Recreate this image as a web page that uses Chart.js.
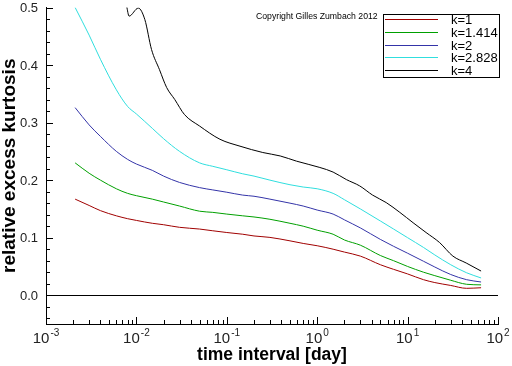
<!DOCTYPE html>
<html><head><meta charset="utf-8">
<script src="https://cdn.jsdelivr.net/npm/chart.js@4"></script>
<style>html,body{margin:0;padding:0;background:#fff;overflow:hidden}</style>
</head><body>
<canvas id="c" width="512" height="366" style="display:block;width:512px;height:366px"></canvas>
<script>
// ---- data ----
const days = [0.0021, 0.003, 0.004, 0.006, 0.008, 0.01, 0.015, 0.02, 0.03, 0.05, 0.07, 0.1, 0.15, 0.2, 0.3, 0.5, 0.7, 1, 1.5, 2, 3, 5, 7, 10, 15, 20, 30, 45, 65];
const kurtK1 = [0.167, 0.156, 0.147, 0.138, 0.133, 0.130, 0.125, 0.1225, 0.118, 0.115, 0.112, 0.109, 0.106, 0.103, 0.1005, 0.0945, 0.090, 0.086, 0.080, 0.075, 0.068, 0.053, 0.045, 0.037, 0.027, 0.022, 0.017, 0.012, 0.013];
const kurtK1414 = [0.230, 0.212, 0.200, 0.185, 0.177, 0.173, 0.167, 0.162, 0.155, 0.146, 0.144, 0.141, 0.138, 0.136, 0.132, 0.125, 0.120, 0.113, 0.106, 0.096, 0.087, 0.069, 0.060, 0.050, 0.040, 0.034, 0.026, 0.019, 0.018];
const kurtK2 = [0.326, 0.296, 0.276, 0.250, 0.236, 0.228, 0.217, 0.207, 0.196, 0.187, 0.183, 0.179, 0.174, 0.172, 0.167, 0.160, 0.155, 0.148, 0.141, 0.131, 0.117, 0.097, 0.085, 0.073, 0.059, 0.049, 0.036, 0.027, 0.023];
const kurtK2828 = [0.500, 0.452, 0.410, 0.357, 0.328, 0.315, 0.290, 0.272, 0.250, 0.230, 0.224, 0.218, 0.211, 0.207, 0.200, 0.192, 0.188, 0.185, 0.177, 0.166, 0.150, 0.129, 0.115, 0.100, 0.083, 0.070, 0.053, 0.039, 0.030];
const daysK4 = [0.0078, 0.0083, 0.0105, 0.0124, 0.0147, 0.018, 0.0216, 0.0266, 0.034, 0.05, 0.084, 0.14, 0.25, 0.39, 0.59, 1.07, 1.5, 2.1, 2.95, 4.1, 5.8, 8.2, 11.5, 16, 22.6, 31.7, 44.5, 65];
const kurtK4 = [0.502, 0.485, 0.499, 0.479, 0.427, 0.392, 0.361, 0.340, 0.314, 0.294, 0.271, 0.259, 0.248, 0.242, 0.233, 0.222, 0.214, 0.201, 0.190, 0.174, 0.161, 0.144, 0.126, 0.109, 0.0915, 0.068, 0.056, 0.042];

const seriesLabels = ['k=1', 'k=1.414', 'k=2', 'k=2.828', 'k=4'];
const seriesColors = ['#a00000', '#00a000', '#3434a8', '#30dede', '#000000'];
const yMajorTicks = [0, 0.1, 0.2, 0.3, 0.4, 0.5];
const yTickLabels = ['0.0', '0.1', '0.2', '0.3', '0.4', '0.5'];
const xTickExponents = [-3, -2, -1, 0, 1, 2];
const xTitle = 'time interval [day]';
const yTitle = 'relative excess kurtosis';
const copyrightText = 'Copyright Gilles Zumbach 2012';

function pts(xs, ys) { return xs.map((x, i) => ({x: x, y: ys[i]})); }
const seriesData = [pts(days, kurtK1), pts(days, kurtK1414), pts(days, kurtK2), pts(days, kurtK2828), pts(daysK4, kurtK4)];

const FONT = '"Liberation Sans", Arial, Helvetica, sans-serif';

const decor = {
  id: 'decor',
  beforeDatasetsDraw(chart) {
    const ctx = chart.ctx, ys = chart.scales.y, a = chart.chartArea;
    ctx.save();
    ctx.fillStyle = '#000';
    const y0 = Math.round(ys.getPixelForValue(0));
    ctx.fillRect(Math.round(a.left), y0, Math.round(a.right - a.left), 1);
    ctx.restore();
  },
  afterDraw(chart) {
    const ctx = chart.ctx, xs = chart.scales.x, ys = chart.scales.y, a = chart.chartArea;
    ctx.save();
    ctx.fillStyle = '#000';
    const ax = Math.round(a.left), ay = Math.round(a.bottom);
    // y ticks (inward)
    for (let i = -2; i <= 25; i++) {
      const v = i * 0.02;
      if (yMajorTicks.some(m => Math.abs(m - v) < 1e-9)) continue;
      const py = Math.round(ys.getPixelForValue(v));
      ctx.fillRect(ax, py, 4, 1);
    }
    yMajorTicks.forEach(v => {
      const py = Math.round(ys.getPixelForValue(v));
      ctx.fillRect(ax, py, 7, 1);
    });
    // x ticks (inward)
    xTickExponents.forEach((e, idx) => {
      const px = Math.round(xs.getPixelForValue(Math.pow(10, e)));
      ctx.fillRect(px, ay - 7, 1, 7);
      if (idx < xTickExponents.length - 1) {
        for (let m = 2; m <= 9; m++) {
          const qx = Math.round(xs.getPixelForValue(m * Math.pow(10, e)));
          ctx.fillRect(qx, ay - 4, 1, 4);
        }
      }
    });
    // y tick labels
    ctx.fillStyle = '#222';
    ctx.font = '13px ' + FONT;
    ctx.textAlign = 'right'; ctx.textBaseline = 'middle';
    yMajorTicks.forEach((v, i) => {
      ctx.fillText(yTickLabels[i], a.left - 8, ys.getPixelForValue(v) + 1);
    });
    // x tick labels 10^e
    xTickExponents.forEach(e => {
      const px = xs.getPixelForValue(Math.pow(10, e));
      const base = '10', sup = (e < 0 ? '-' : '') + Math.abs(e);
      ctx.font = '15px ' + FONT;
      const wb = ctx.measureText(base).width;
      ctx.font = '10px ' + FONT;
      const ws = ctx.measureText(sup).width;
      const x0 = px - (wb + ws + 1) / 2;
      ctx.textAlign = 'left'; ctx.textBaseline = 'alphabetic';
      ctx.font = '15px ' + FONT;
      ctx.fillText(base, x0, 343);
      ctx.font = '10px ' + FONT;
      ctx.fillText(sup, x0 + wb + 1, 336);
    });
    // axis titles
    ctx.fillStyle = '#000';
    ctx.font = 'bold 17.5px ' + FONT;
    ctx.textAlign = 'center'; ctx.textBaseline = 'alphabetic';
    ctx.fillText(xTitle, (a.left + a.right) / 2, 359.5);
    ctx.save();
    ctx.translate(15, (a.top + a.bottom) / 2);
    ctx.rotate(-Math.PI / 2);
    ctx.font = 'bold 19px ' + FONT;
    ctx.fillText(yTitle, 0, 0);
    ctx.restore();
    // copyright
    ctx.font = '8.7px ' + FONT;
    ctx.textAlign = 'left'; ctx.textBaseline = 'middle';
    ctx.fillText(copyrightText, 256, 16.5);
    // legend box
    ctx.fillRect(383, 14, 117, 1);
    ctx.fillRect(383, 77, 117, 1);
    ctx.fillRect(383, 14, 1, 64);
    ctx.fillRect(499, 14, 1, 64);
    chart.data.datasets.forEach((ds, i) => {
      const ly = Math.round(18.7 + i * 12.9);
      ctx.fillStyle = ds.borderColor;
      ctx.fillRect(385, ly, 53, 1);
      ctx.fillStyle = '#000';
      ctx.font = '13px ' + FONT;
      ctx.fillText(ds.label, 451, ly + 1);
    });
    ctx.restore();
  }
};

new Chart(document.getElementById('c'), {
  type: 'line',
  data: {
    datasets: seriesLabels.map((lab, i) => ({
      label: lab,
      data: seriesData[i],
      borderColor: seriesColors[i],
      backgroundColor: seriesColors[i],
      borderWidth: 1,
      pointRadius: 0,
      cubicInterpolationMode: 'monotone',
      fill: false
    }))
  },
  options: {
    responsive: false,
    animation: false,
    devicePixelRatio: 1,
    layout: {padding: {top: 7.5, right: 14, left: 0, bottom: 0}},
    plugins: {legend: {display: false}, tooltip: {enabled: false}},
    scales: {
      x: {
        type: 'logarithmic', min: 0.001, max: 100,
        ticks: {display: false},
        grid: {display: false},
        border: {display: true, color: '#000', width: 1},
        afterFit: s => { s.height = 42; }
      },
      y: {
        type: 'linear', min: -0.05, max: 0.5,
        ticks: {display: false},
        grid: {display: false},
        border: {display: true, color: '#000', width: 1},
        afterFit: s => { s.width = 46; }
      }
    }
  },
  plugins: [decor]
});
</script>
</body></html>
